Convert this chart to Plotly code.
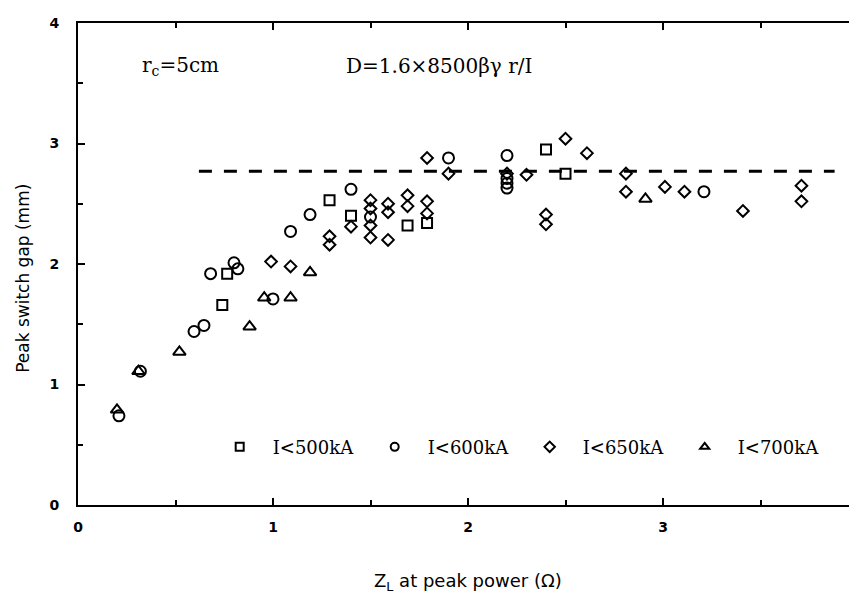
import plotly.graph_objects as go

# ---- data ----
sq_x = [0.74, 0.765, 1.29, 1.40, 1.69, 1.79, 2.40, 2.50]
sq_y = [1.66, 1.92, 2.53, 2.40, 2.32, 2.34, 2.95, 2.75]

ci_x = [0.21, 0.32, 0.595, 0.646, 0.68, 0.80, 0.82, 1.00, 1.09, 1.19, 1.40, 1.50,
        1.90, 2.20, 2.20, 2.20, 2.20, 3.21]
ci_y = [0.74, 1.11, 1.44, 1.49, 1.92, 2.01, 1.96, 1.71, 2.27, 2.41, 2.62, 2.39,
        2.88, 2.90, 2.71, 2.67, 2.63, 2.60]

di_x = [0.99, 1.09, 1.29, 1.29, 1.40, 1.50, 1.50, 1.50, 1.50, 1.59, 1.59, 1.59,
        1.69, 1.69, 1.79, 1.79, 1.79, 1.90, 2.20, 2.30, 2.40, 2.40, 2.50, 2.61,
        2.81, 2.81, 3.01, 3.11, 3.41, 3.71, 3.71]
di_y = [2.02, 1.98, 2.23, 2.16, 2.31, 2.53, 2.46, 2.32, 2.22, 2.50, 2.43, 2.20,
        2.57, 2.48, 2.52, 2.42, 2.88, 2.75, 2.75, 2.74, 2.41, 2.33, 3.04, 2.92,
        2.75, 2.60, 2.64, 2.60, 2.44, 2.65, 2.52]

tr_x = [0.20, 0.31, 0.52, 0.88, 0.955, 1.09, 1.19, 2.91]
tr_y = [0.79, 1.11, 1.27, 1.48, 1.72, 1.72, 1.93, 2.54]

dash_x = [0.62, 3.88]
dash_level = 2.77

series_names = ["I<500kA", "I<600kA", "I<650kA", "I<700kA"]
x_ticks = [0, 1, 2, 3, 4]
y_ticks = [0, 1, 2, 3, 4]

# ---- figure ----
fig = go.Figure()

def mk(sym, size):
    return dict(symbol=sym, size=size, color="black",
                line=dict(color="black", width=2))

styles = [("square-open", 10), ("circle-open", 11),
          ("diamond-open", 9), ("triangle-up-open", 11)]
datasets = [(sq_x, sq_y), (ci_x, ci_y), (di_x, di_y), (tr_x, tr_y)]

fig.add_trace(go.Scatter(x=dash_x, y=[dash_level] * len(dash_x), mode="lines",
                         line=dict(color="black", width=3, dash="13px,12px"),
                         showlegend=False, hoverinfo="skip"))

for (xs, ys), (sym, size), nm in zip(datasets, styles, series_names):
    fig.add_trace(go.Scatter(x=xs, y=ys, mode="markers", marker=mk(sym, size),
                             name=nm, showlegend=False))

for (sym, size), nm in zip(styles, series_names):
    fig.add_trace(go.Scatter(x=[None], y=[None], mode="markers",
                             marker=mk(sym, 8), name=nm, showlegend=True))

tickfont = dict(family="DejaVu Sans", size=14, color="black", weight="bold")
axis_common = dict(
    showgrid=False, zeroline=False, showline=True, linecolor="black", linewidth=2,
    mirror="allticks", ticks="inside", ticklen=7, tickwidth=2, tickcolor="black",
    tickfont=tickfont, tickmode="array", ticklabeloverflow="allow",
    minor=dict(ticks="inside", ticklen=5, tickwidth=2, tickcolor="black", dtick=0.5),
)

fig.update_xaxes(range=[0, 4], tickvals=x_ticks, ticktext=[str(v) for v in x_ticks],
                 ticklabelstandoff=8, **axis_common)
fig.update_yaxes(range=[0, 4], tickvals=y_ticks, ticktext=[str(v) for v in y_ticks],
                 ticklabelstandoff=14, **axis_common)

fig.update_layout(
    width=857, height=596,
    margin=dict(l=70, r=2, t=15, b=99),
    paper_bgcolor="white", plot_bgcolor="white",
    showlegend=True,
    legend=dict(orientation="h", x=0.165, y=0.12, xanchor="left", yanchor="middle",
                bgcolor="rgba(0,0,0,0)", itemwidth=56, entrywidth=84,
                entrywidthmode="pixels",
                font=dict(family="DejaVu Serif", size=18, color="black")),
    annotations=[
        dict(x=0.316, y=3.64, xref="x", yref="y", xanchor="left", yanchor="middle",
             text="r<sub>c</sub>=5cm", showarrow=False,
             font=dict(family="DejaVu Serif", size=20, color="black")),
        dict(x=1.366, y=3.64, xref="x", yref="y", xanchor="left", yanchor="middle",
             text="D=1.6×8500βγ r/I", showarrow=False,
             font=dict(family="DejaVu Serif", size=20, color="black")),
        dict(x=0.5, y=-0.16, xref="paper", yref="paper", xanchor="center",
             yanchor="middle", text="Z<sub>L</sub> at peak power (Ω)", showarrow=False,
             font=dict(family="DejaVu Sans", size=18, color="black")),
        dict(x=-0.07, y=0.47, xref="paper", yref="paper", xanchor="center",
             yanchor="middle", text="Peak switch gap (mm)", showarrow=False,
             textangle=-90,
             font=dict(family="DejaVu Sans", size=17, color="black")),
    ],
)

fig.write_html("out.html")
